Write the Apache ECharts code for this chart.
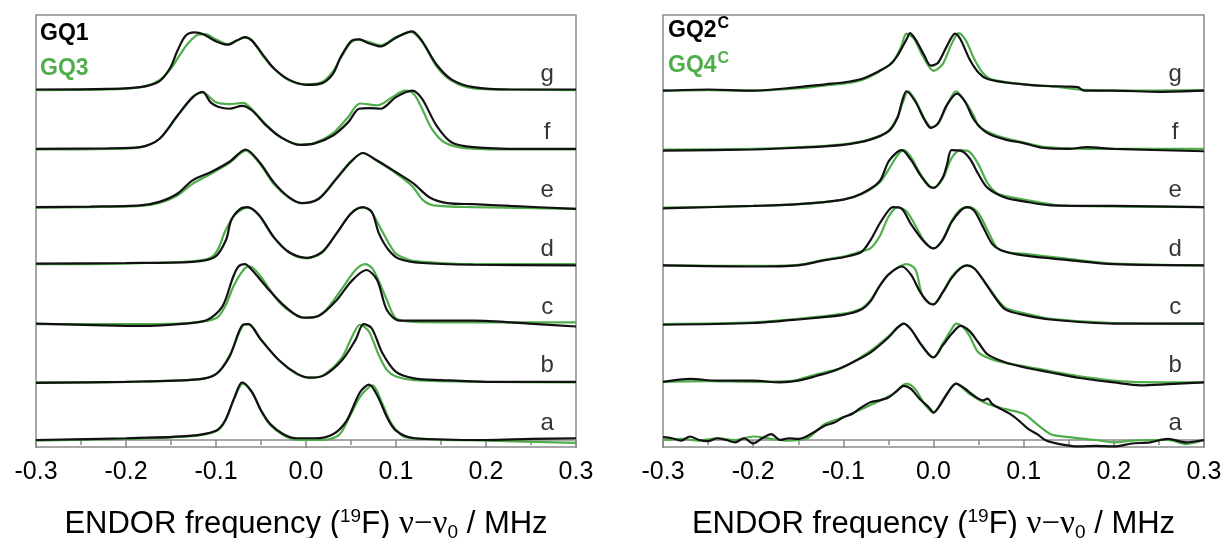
<!DOCTYPE html>
<html>
<head>
<meta charset="utf-8">
<script src="https://cdn.jsdelivr.net/npm/echarts@6/dist/echarts.min.js"></script>
<style>
  html, body { margin: 0; padding: 0; background: #fff; }
  #chart { width: 1227px; height: 538px; }
</style>
</head>
<body>
<div id="chart"></div>
<script>
// Trace letters, bottom (a) to top (g); each trace is lifted by its index.
const traceLetters = ['a', 'b', 'c', 'd', 'e', 'f', 'g'];
const xTicks = [-0.3, -0.2, -0.1, 0.0, 0.1, 0.2, 0.3];

// Left panel: GQ1 (black) and GQ3 (green), normalised ENDOR spectra [MHz, intensity]
const GQ1_a = [[-0.3,0.0],[-0.2,0.03],[-0.13,0.07],[-0.1,0.16],[-0.09,0.33],[-0.08,0.71],[-0.071,0.99],[-0.06,0.82],[-0.05,0.51],[-0.04,0.28],[-0.025,0.10],[-0.01,0.03],[0.01,0.03],[0.03,0.10],[0.045,0.33],[0.06,0.82],[0.07,0.95],[0.08,0.74],[0.09,0.39],[0.1,0.16],[0.12,0.03],[0.2,0.0],[0.25,0.02],[0.3,0.03]];
const GQ1_b = [[-0.3,-0.02],[-0.2,0.0],[-0.12,0.04],[-0.1,0.13],[-0.085,0.43],[-0.07,0.98],[-0.064,0.99],[-0.05,0.72],[-0.03,0.37],[-0.01,0.14],[0.005,0.07],[0.02,0.11],[0.04,0.37],[0.055,0.72],[0.064,0.99],[0.073,0.92],[0.085,0.49],[0.1,0.17],[0.12,0.06],[0.15,0.03],[0.2,0.0],[0.3,0.0]];
const GQ1_c = [[-0.3,0.0],[-0.225,-0.03],[-0.184,-0.04],[-0.134,0.0],[-0.11,0.06],[-0.093,0.29],[-0.081,0.80],[-0.075,0.98],[-0.068,1.02],[-0.06,0.92],[-0.044,0.63],[-0.023,0.29],[-0.003,0.10],[0.014,0.13],[0.034,0.40],[0.05,0.72],[0.067,0.92],[0.079,0.75],[0.09,0.23],[0.104,0.05],[0.145,0.05],[0.186,0.05],[0.248,0.0],[0.3,-0.05]];
const GQ1_d = [[-0.3,0.03],[-0.2,0.04],[-0.126,0.06],[-0.1015,0.14],[-0.089,0.43],[-0.083,0.78],[-0.073,0.97],[-0.065,1.0],[-0.052,0.86],[-0.036,0.49],[-0.019,0.23],[0.001,0.13],[0.018,0.23],[0.034,0.55],[0.05,0.89],[0.063,1.0],[0.073,0.92],[0.081,0.55],[0.092,0.26],[0.104,0.11],[0.129,0.04],[0.186,0.01],[0.3,0.0]];
const GQ1_e = [[-0.3,0.0],[-0.24,0.01],[-0.184,0.03],[-0.163,0.09],[-0.143,0.23],[-0.126,0.46],[-0.106,0.60],[-0.085,0.78],[-0.067,0.99],[-0.052,0.78],[-0.036,0.43],[-0.019,0.17],[-0.005,0.07],[0.014,0.14],[0.034,0.49],[0.05,0.78],[0.063,0.93],[0.079,0.80],[0.1,0.60],[0.12,0.40],[0.137,0.17],[0.157,0.07],[0.186,0.05],[0.227,0.02],[0.3,-0.03]];
const GQ1_f = [[-0.3,0.0],[-0.22,0.01],[-0.184,0.03],[-0.163,0.17],[-0.143,0.57],[-0.126,0.89],[-0.115,0.98],[-0.106,0.80],[-0.097,0.72],[-0.085,0.69],[-0.071,0.74],[-0.06,0.66],[-0.044,0.40],[-0.028,0.2],[-0.007,0.07],[0.009,0.09],[0.03,0.23],[0.047,0.46],[0.059,0.69],[0.071,0.70],[0.083,0.69],[0.1,0.89],[0.118,1.0],[0.129,0.86],[0.145,0.40],[0.162,0.11],[0.186,0.03],[0.24,0.0],[0.3,0.0]];
const GQ1_g = [[-0.3,0.02],[-0.22,0.03],[-0.184,0.06],[-0.163,0.16],[-0.151,0.39],[-0.143,0.68],[-0.134,0.94],[-0.124,1.0],[-0.114,0.97],[-0.1015,0.86],[-0.087,0.79],[-0.077,0.86],[-0.068,0.92],[-0.06,0.86],[-0.048,0.62],[-0.036,0.39],[-0.019,0.19],[0.001,0.10],[0.018,0.13],[0.03,0.29],[0.038,0.56],[0.05,0.85],[0.059,0.88],[0.069,0.82],[0.083,0.76],[0.1,0.91],[0.118,1.02],[0.129,0.85],[0.145,0.45],[0.162,0.19],[0.186,0.06],[0.227,0.02],[0.3,0.02]];

const GQ3_a = [[-0.3,-0.01],[-0.2,0.02],[-0.13,0.06],[-0.1,0.15],[-0.09,0.32],[-0.08,0.70],[-0.07,0.97],[-0.06,0.83],[-0.05,0.50],[-0.04,0.26],[-0.025,0.08],[-0.01,0.0],[0.02,0.0],[0.033,0.05],[0.04,0.15],[0.05,0.45],[0.06,0.74],[0.07,0.91],[0.074,0.94],[0.085,0.62],[0.095,0.28],[0.11,0.05],[0.2,-0.01],[0.3,-0.05]];
const GQ3_b = [[-0.3,-0.01],[-0.2,0.0],[-0.12,0.04],[-0.1,0.13],[-0.085,0.45],[-0.07,0.97],[-0.064,0.99],[-0.05,0.73],[-0.03,0.37],[-0.01,0.13],[0.005,0.07],[0.02,0.12],[0.04,0.42],[0.052,0.8],[0.06,0.98],[0.07,0.86],[0.08,0.49],[0.09,0.20],[0.1,0.09],[0.12,0.03],[0.2,0.0],[0.3,-0.01]];
const GQ3_c = [[-0.3,-0.01],[-0.2,-0.01],[-0.13,0.01],[-0.1,0.09],[-0.09,0.29],[-0.08,0.66],[-0.068,0.95],[-0.062,0.98],[-0.05,0.80],[-0.03,0.37],[-0.01,0.14],[0.005,0.10],[0.02,0.2],[0.04,0.60],[0.055,0.92],[0.066,1.02],[0.075,0.92],[0.09,0.40],[0.1,0.09],[0.12,0.03],[0.2,0.02],[0.3,0.02]];
const GQ3_d = [[-0.3,0.02],[-0.2,0.03],[-0.126,0.07],[-0.105,0.14],[-0.097,0.3],[-0.09,0.58],[-0.08,0.85],[-0.07,0.97],[-0.064,0.99],[-0.052,0.85],[-0.036,0.48],[-0.019,0.22],[0.001,0.12],[0.018,0.22],[0.034,0.55],[0.05,0.89],[0.062,0.99],[0.072,0.93],[0.082,0.66],[0.092,0.38],[0.1,0.2],[0.115,0.09],[0.13,0.06],[0.18,0.02],[0.3,0.02]];
const GQ3_e = [[-0.3,-0.01],[-0.24,0.0],[-0.184,0.02],[-0.163,0.07],[-0.143,0.2],[-0.126,0.40],[-0.106,0.57],[-0.085,0.76],[-0.067,0.97],[-0.052,0.76],[-0.036,0.40],[-0.019,0.16],[-0.005,0.07],[0.014,0.15],[0.034,0.50],[0.05,0.79],[0.063,0.93],[0.079,0.79],[0.1,0.58],[0.118,0.36],[0.13,0.12],[0.142,0.03],[0.186,0.0],[0.3,-0.03]];
const GQ3_f = [[-0.3,-0.01],[-0.22,0.0],[-0.184,0.03],[-0.163,0.17],[-0.143,0.56],[-0.126,0.88],[-0.115,0.97],[-0.1,0.80],[-0.085,0.77],[-0.07,0.79],[-0.06,0.68],[-0.044,0.41],[-0.028,0.2],[-0.007,0.07],[0.009,0.10],[0.03,0.27],[0.047,0.55],[0.06,0.78],[0.08,0.75],[0.095,0.88],[0.11,1.0],[0.12,0.94],[0.129,0.69],[0.14,0.34],[0.155,0.1],[0.18,0.01],[0.24,-0.01],[0.3,-0.01]];
const GQ3_g = [[-0.3,0.01],[-0.22,0.02],[-0.184,0.06],[-0.163,0.18],[-0.15,0.38],[-0.14,0.62],[-0.13,0.83],[-0.12,0.96],[-0.112,0.97],[-0.1,0.88],[-0.087,0.80],[-0.077,0.86],[-0.068,0.91],[-0.06,0.86],[-0.048,0.6],[-0.036,0.38],[-0.019,0.18],[0.0,0.11],[0.018,0.15],[0.03,0.33],[0.04,0.6],[0.05,0.83],[0.059,0.88],[0.069,0.84],[0.083,0.78],[0.1,0.92],[0.116,1.01],[0.129,0.84],[0.145,0.42],[0.162,0.17],[0.186,0.04],[0.227,0.02],[0.3,0.01]];

// Right panel: GQ2^C (black) and GQ4^C (green)
const GQ2_a = [[-0.3,0.05],[-0.29,0.03],[-0.28,-0.01],[-0.27,0.06],[-0.26,0.0],[-0.25,-0.02],[-0.24,0.03],[-0.23,0.0],[-0.22,-0.04],[-0.21,0.03],[-0.2,-0.06],[-0.19,0.03],[-0.18,0.10],[-0.17,0.0],[-0.16,0.03],[-0.15,0.02],[-0.14,0.07],[-0.13,0.16],[-0.12,0.25],[-0.11,0.30],[-0.1,0.39],[-0.09,0.45],[-0.08,0.56],[-0.07,0.65],[-0.06,0.68],[-0.05,0.73],[-0.04,0.85],[-0.033,0.93],[-0.025,0.88],[-0.015,0.7],[-0.005,0.56],[0,0.47],[0.007,0.59],[0.015,0.79],[0.025,0.97],[0.035,0.88],[0.045,0.76],[0.055,0.68],[0.06,0.71],[0.065,0.62],[0.075,0.53],[0.085,0.45],[0.095,0.33],[0.105,0.19],[0.115,0.10],[0.125,-0.01],[0.14,-0.07],[0.16,-0.11],[0.18,-0.1],[0.2,-0.11],[0.22,-0.06],[0.24,-0.04],[0.26,0.02],[0.28,-0.04],[0.3,0.0]];
const GQ2_b = [[-0.3,0.0],[-0.27,0.05],[-0.24,0.02],[-0.2,0.02],[-0.17,-0.01],[-0.15,0.02],[-0.13,0.1],[-0.11,0.19],[-0.09,0.33],[-0.07,0.5],[-0.05,0.76],[-0.04,0.93],[-0.033,1.0],[-0.025,0.9],[-0.015,0.67],[-0.005,0.47],[0,0.42],[0.01,0.62],[0.02,0.82],[0.03,0.96],[0.04,0.87],[0.05,0.67],[0.06,0.47],[0.08,0.33],[0.1,0.25],[0.13,0.16],[0.16,0.07],[0.2,-0.01],[0.23,-0.06],[0.26,-0.04],[0.3,-0.01]];
const GQ2_c = [[-0.3,-0.02],[-0.2,0.01],[-0.15,0.07],[-0.1,0.15],[-0.08,0.24],[-0.07,0.38],[-0.06,0.64],[-0.05,0.84],[-0.035,0.98],[-0.025,0.84],[-0.015,0.55],[-0.005,0.35],[0,0.33],[0.01,0.53],[0.02,0.78],[0.03,0.95],[0.037,1.0],[0.045,0.95],[0.055,0.75],[0.07,0.41],[0.08,0.24],[0.1,0.15],[0.13,0.07],[0.2,0.0],[0.3,0.0]];
const GQ2_d = [[-0.3,0.0],[-0.2,-0.02],[-0.15,0.0],[-0.12,0.09],[-0.1,0.14],[-0.08,0.23],[-0.07,0.43],[-0.06,0.71],[-0.05,0.94],[-0.045,1.0],[-0.035,0.97],[-0.025,0.71],[-0.01,0.4],[0,0.29],[0.01,0.43],[0.02,0.74],[0.03,0.94],[0.037,1.0],[0.045,0.94],[0.055,0.66],[0.065,0.37],[0.075,0.26],[0.1,0.17],[0.15,0.09],[0.2,0.02],[0.3,0.0]];
const GQ2_e = [[-0.3,-0.02],[-0.2,0.02],[-0.15,0.05],[-0.1,0.13],[-0.08,0.23],[-0.06,0.44],[-0.05,0.78],[-0.04,0.95],[-0.035,0.98],[-0.025,0.81],[-0.015,0.56],[-0.005,0.36],[0,0.33],[0.01,0.5],[0.015,0.73],[0.02,0.98],[0.03,0.97],[0.04,0.84],[0.05,0.56],[0.06,0.33],[0.08,0.16],[0.1,0.10],[0.13,0.03],[0.2,0.02],[0.3,0.0]];
const GQ2_f = [[-0.3,-0.03],[-0.2,-0.01],[-0.15,0.02],[-0.1,0.07],[-0.07,0.16],[-0.05,0.30],[-0.04,0.53],[-0.035,0.81],[-0.03,0.99],[-0.02,0.81],[-0.01,0.5],[-0.003,0.36],[0.005,0.44],[0.015,0.76],[0.026,0.95],[0.035,0.81],[0.045,0.5],[0.06,0.27],[0.08,0.16],[0.1,0.10],[0.12,0.02],[0.15,0.0],[0.17,0.03],[0.2,0.0],[0.3,-0.04]];
const GQ2_g = [[-0.3,0.0],[-0.25,0.02],[-0.2,0.0],[-0.15,0.06],[-0.12,0.11],[-0.1,0.14],[-0.08,0.2],[-0.06,0.34],[-0.048,0.45],[-0.04,0.6],[-0.03,0.88],[-0.026,0.99],[-0.02,0.88],[-0.01,0.6],[-0.003,0.43],[0.005,0.48],[0.015,0.77],[0.024,0.98],[0.03,0.88],[0.04,0.54],[0.05,0.31],[0.06,0.2],[0.08,0.14],[0.1,0.11],[0.12,0.085],[0.15,0.07],[0.16,0.06],[0.167,0.0],[0.2,0.0],[0.25,-0.02],[0.3,0.0]];

const GQ4_a = [[-0.3,0.0],[-0.28,0.02],[-0.26,-0.01],[-0.24,0.03],[-0.22,0.0],[-0.2,0.06],[-0.18,0.02],[-0.16,-0.01],[-0.14,0.03],[-0.13,0.15],[-0.12,0.28],[-0.1,0.39],[-0.08,0.53],[-0.06,0.67],[-0.045,0.79],[-0.03,0.97],[-0.02,0.87],[-0.01,0.62],[0,0.47],[0.01,0.68],[0.025,0.97],[0.04,0.79],[0.06,0.62],[0.08,0.53],[0.1,0.45],[0.115,0.27],[0.13,0.10],[0.15,0.05],[0.18,0.0],[0.2,-0.04],[0.22,-0.01],[0.24,0.0],[0.26,0.0],[0.28,-0.07],[0.3,0.0]];
const GQ4_b = [[-0.3,0.0],[-0.25,0.01],[-0.2,0.0],[-0.16,0.01],[-0.13,0.13],[-0.1,0.25],[-0.07,0.53],[-0.05,0.78],[-0.04,0.93],[-0.033,1.0],[-0.025,0.9],[-0.015,0.66],[-0.005,0.46],[0,0.42],[0.01,0.65],[0.02,0.9],[0.025,1.0],[0.032,0.95],[0.04,0.79],[0.05,0.5],[0.07,0.36],[0.1,0.27],[0.16,0.1],[0.22,0.0],[0.3,-0.01]];
const GQ4_c = [[-0.3,-0.01],[-0.2,0.02],[-0.15,0.08],[-0.1,0.17],[-0.08,0.26],[-0.07,0.4],[-0.06,0.64],[-0.05,0.84],[-0.04,0.96],[-0.03,1.02],[-0.02,0.93],[-0.012,0.47],[0,0.33],[0.01,0.53],[0.02,0.8],[0.03,0.96],[0.037,1.0],[0.045,0.95],[0.055,0.76],[0.07,0.43],[0.08,0.27],[0.1,0.18],[0.13,0.08],[0.2,0.01],[0.3,0.0]];
const GQ4_d = [[-0.3,0.0],[-0.2,-0.01],[-0.15,0.01],[-0.12,0.1],[-0.1,0.15],[-0.08,0.24],[-0.07,0.29],[-0.06,0.49],[-0.05,0.83],[-0.04,1.0],[-0.03,0.93],[-0.02,0.68],[-0.01,0.41],[0,0.29],[0.01,0.44],[0.02,0.76],[0.03,0.96],[0.04,1.0],[0.05,0.89],[0.06,0.6],[0.07,0.31],[0.08,0.23],[0.1,0.2],[0.15,0.11],[0.2,0.03],[0.3,0.0]];
const GQ4_e = [[-0.3,-0.01],[-0.2,0.02],[-0.15,0.05],[-0.1,0.13],[-0.08,0.22],[-0.06,0.42],[-0.05,0.64],[-0.04,0.89],[-0.033,0.98],[-0.025,0.86],[-0.015,0.58],[-0.005,0.37],[0,0.33],[0.01,0.48],[0.02,0.84],[0.03,0.98],[0.04,0.95],[0.05,0.73],[0.06,0.41],[0.07,0.24],[0.08,0.19],[0.1,0.13],[0.13,0.05],[0.15,0.02],[0.3,0.0]];
const GQ4_f = [[-0.3,-0.01],[-0.2,0.0],[-0.15,0.03],[-0.1,0.08],[-0.07,0.17],[-0.05,0.31],[-0.04,0.55],[-0.034,0.8],[-0.028,0.99],[-0.02,0.83],[-0.01,0.52],[-0.002,0.37],[0.006,0.45],[0.016,0.78],[0.025,0.99],[0.034,0.84],[0.045,0.56],[0.05,0.39],[0.065,0.26],[0.08,0.18],[0.1,0.11],[0.12,0.04],[0.15,0.01],[0.2,0.0],[0.3,0.0]];
const GQ4_g = [[-0.3,0.0],[-0.25,0.01],[-0.2,0.0],[-0.15,0.04],[-0.12,0.09],[-0.1,0.12],[-0.08,0.18],[-0.06,0.33],[-0.045,0.5],[-0.036,0.75],[-0.03,0.98],[-0.022,0.9],[-0.012,0.6],[0.0,0.34],[0.01,0.45],[0.02,0.8],[0.028,0.99],[0.036,0.86],[0.045,0.55],[0.055,0.3],[0.065,0.19],[0.1,0.11],[0.14,0.06],[0.16,0.02],[0.2,0.0],[0.3,0.01]];

const leftBlack  = [GQ1_a, GQ1_b, GQ1_c, GQ1_d, GQ1_e, GQ1_f, GQ1_g];
const leftGreen  = [GQ3_a, GQ3_b, GQ3_c, GQ3_d, GQ3_e, GQ3_f, GQ3_g];
const rightBlack = [GQ2_a, GQ2_b, GQ2_c, GQ2_d, GQ2_e, GQ2_f, GQ2_g];
const rightGreen = [GQ4_a, GQ4_b, GQ4_c, GQ4_d, GQ4_e, GQ4_f, GQ4_g];

const BLACK = '#111111';
const GREEN = '#4fae4a';
const FRAME = '#8a8a8a';
const SANS = '"Liberation Sans", Arial, sans-serif';
const SERIF = '"Liberation Serif", "Times New Roman", serif';

const chart = echarts.init(document.getElementById('chart'), null, { renderer: 'canvas' });

function lifted(trace, k) {
  return trace.map(p => [p[0], p[1] + k]);
}

function xAxisFor(gridIndex) {
  return {
    type: 'value', gridIndex, min: -0.3, max: 0.3, interval: 0.1,
    axisLine: { show: true, lineStyle: { color: FRAME, width: 1.5 } },
    axisTick: { show: true, length: 8, inside: false, lineStyle: { color: FRAME, width: 1.5 } },
    minorTick: { show: true, splitNumber: 2, length: 5, lineStyle: { color: FRAME, width: 1.5 } },
    splitLine: { show: false },
    axisLabel: {
      margin: 13, fontSize: 25, color: '#000', fontFamily: SANS,
      formatter: v => (Math.abs(v) < 1e-9 ? '0.0' : v.toFixed(1))
    },
    name: 'ENDOR frequency ({sup|19}F) {g|ν−ν}{sub|0} / MHz',
    nameLocation: 'middle', nameGap: 60,
    nameTextStyle: {
      fontSize: 31, color: '#000', fontFamily: SANS,
      rich: {
        sup: { fontSize: 19, fontFamily: SANS, color: '#000', padding: [0, 0, 16, 0] },
        sub: { fontSize: 19, fontFamily: SANS, color: '#000', padding: [16, 0, 0, 0] },
        g:   { fontSize: 33, fontFamily: SERIF, color: '#000' }
      }
    }
  };
}

function yAxisFor(gridIndex) {
  return { type: 'value', gridIndex, min: -0.12, max: 7.3, show: false };
}

const series = [];
function addPanel(blackSet, greenSet, axisIndex) {
  greenSet.forEach((tr, k) => series.push({
    type: 'line', xAxisIndex: axisIndex, yAxisIndex: axisIndex,
    data: lifted(tr, k), showSymbol: false, smooth: 0.3, silent: true,
    lineStyle: { color: GREEN, width: 2.2 }, z: 2
  }));
  blackSet.forEach((tr, k) => series.push({
    type: 'line', xAxisIndex: axisIndex, yAxisIndex: axisIndex,
    data: lifted(tr, k), showSymbol: false, smooth: 0.3, silent: true,
    lineStyle: { color: BLACK, width: 2.2 }, z: 3
  }));
  // trace letters at the right end of each baseline
  series.push({
    type: 'scatter', xAxisIndex: axisIndex, yAxisIndex: axisIndex, silent: true,
    symbolSize: 1, itemStyle: { color: 'rgba(0,0,0,0)' },
    data: traceLetters.map((l, k) => [0.268, k + 0.28, l]),
    label: {
      show: true, position: 'inside', formatter: p => p.data[2],
      fontSize: 24, color: '#000', fontFamily: SANS
    },
    z: 4
  });
}
addPanel(leftBlack, leftGreen, 0);
addPanel(rightBlack, rightGreen, 1);

const gridBase = {
  top: 15, bottom: 91, show: true, borderColor: FRAME, borderWidth: 1.5,
  backgroundColor: 'transparent', containLabel: false, outerBoundsMode: 'none'
};

chart.setOption({
  animation: false,
  backgroundColor: '#fff',
  grid: [
    Object.assign({ left: 36, right: 651 }, gridBase),
    Object.assign({ left: 663, right: 23 }, gridBase)
  ],
  xAxis: [xAxisFor(0), xAxisFor(1)],
  yAxis: [yAxisFor(0), yAxisFor(1)],
  series,
  graphic: [
    { type: 'text', left: 40, top: 22, style: { text: 'GQ1', font: 'bold 23px ' + SANS, fill: '#000' } },
    { type: 'text', left: 40, top: 57, style: { text: 'GQ3', font: 'bold 23px ' + SANS, fill: GREEN } },
    { type: 'text', left: 668, top: 16, style: {
        text: '{m|GQ2}{s|C}', fill: '#000',
        rich: { m: { font: 'bold 23px ' + SANS, fill: '#000', padding: [6, 0, 0, 0] },
                s: { font: 'bold 16px ' + SANS, fill: '#000', padding: [0, 0, 8, 1] } } } },
    { type: 'text', left: 668, top: 51, style: {
        text: '{m|GQ4}{s|C}', fill: GREEN,
        rich: { m: { font: 'bold 23px ' + SANS, fill: GREEN, padding: [6, 0, 0, 0] },
                s: { font: 'bold 16px ' + SANS, fill: GREEN, padding: [0, 0, 8, 1] } } } }
  ]
});
</script>
</body>
</html>
